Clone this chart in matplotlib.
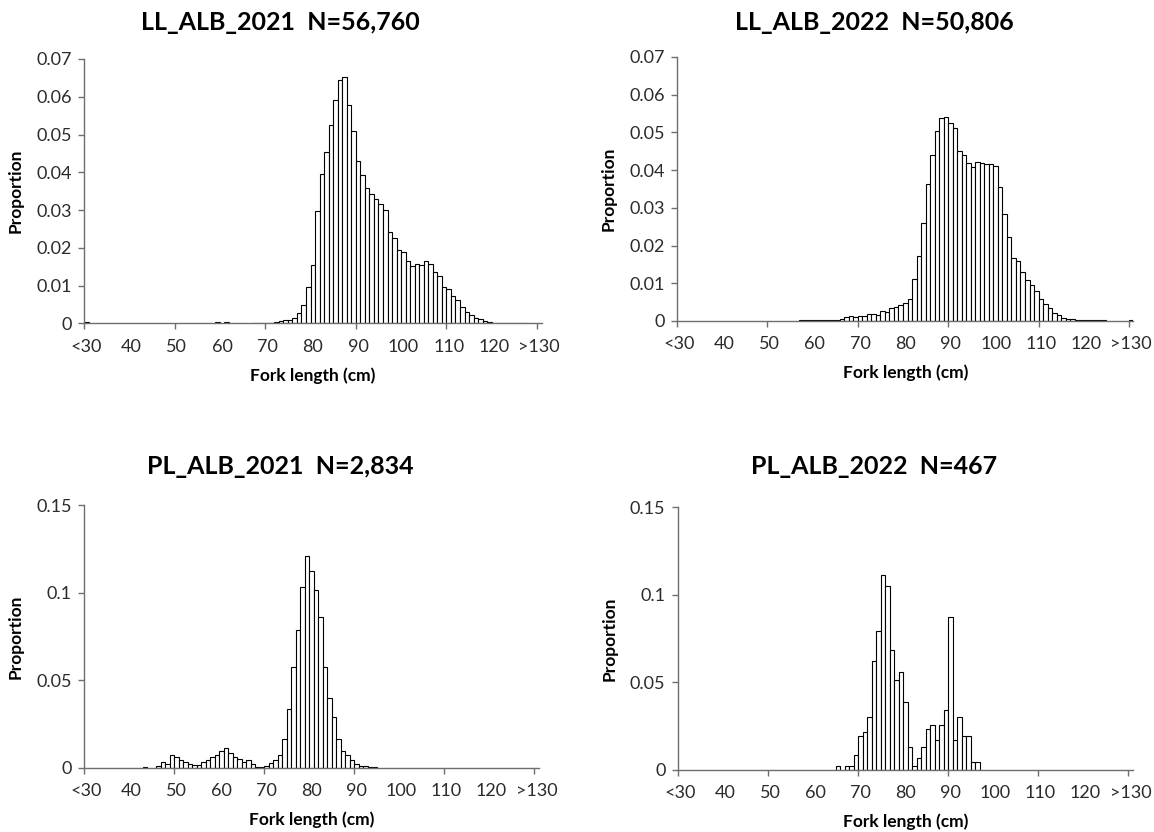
import matplotlib
matplotlib.use("Agg")
import matplotlib.pyplot as plt

plt.rcParams["font.family"] = ["Lato", "DejaVu Sans"]

# categories: 1 cm bins, first is "<30", last is ">130"
tick_values = [30, 40, 50, 60, 70, 80, 90, 100, 110, 120, 130]
tick_labels = ["<30", "40", "50", "60", "70", "80", "90", "100", "110", "120", ">130"]

# LL_ALB_2021
ll21_len = [30, 59, 61,
            67, 68, 69, 70, 71, 72, 73, 74, 75, 76, 77, 78, 79,
            80, 81, 82, 83, 84, 85, 86, 87, 88, 89,
            90, 91, 92, 93, 94, 95, 96, 97, 98, 99,
            100, 101, 102, 103, 104, 105, 106, 107, 108, 109,
            110, 111, 112, 113, 114, 115, 116, 117, 118, 119,
            120, 121, 122, 123, 124, 125, 126, 127]
ll21_prop = [0.0003, 0.0003, 0.0003,
             0.0002, 0.0002, 0.0002, 0.0002, 0.0002, 0.0003, 0.0006, 0.0009, 0.0010, 0.0014, 0.0027, 0.0048, 0.0095,
             0.0154, 0.0297, 0.0396, 0.0455, 0.0526, 0.0592, 0.0644, 0.0651, 0.0578, 0.0510,
             0.0430, 0.0393, 0.0359, 0.0342, 0.0328, 0.0315, 0.0301, 0.0242, 0.0227, 0.0194,
             0.0189, 0.0165, 0.0151, 0.0156, 0.0154, 0.0165, 0.0156, 0.0136, 0.0125, 0.0097,
             0.0092, 0.0072, 0.0062, 0.0042, 0.0030, 0.0022, 0.0013, 0.0011, 0.0007, 0.0004,
             0.0002, 0.0002, 0.0002, 0.0002, 0.0002, 0.0002, 0.0002, 0.0002]

# LL_ALB_2022
ll22_len = [57, 58, 59, 60, 61, 62, 63, 64, 65, 66, 67, 68, 69,
            70, 71, 72, 73, 74, 75, 76, 77, 78, 79,
            80, 81, 82, 83, 84, 85, 86, 87, 88, 89,
            90, 91, 92, 93, 94, 95, 96, 97, 98, 99,
            100, 101, 102, 103, 104, 105, 106, 107, 108, 109,
            110, 111, 112, 113, 114, 115, 116, 117, 118, 119,
            120, 121, 122, 123, 124, 130]
ll22_prop = [0.0002, 0.0002, 0.0002, 0.0002, 0.0002, 0.0002, 0.0002, 0.0002, 0.0002, 0.0004, 0.0011, 0.0014, 0.0010,
             0.0013, 0.0012, 0.0018, 0.0018, 0.0015, 0.0027, 0.0025, 0.0034, 0.0037, 0.0042,
             0.0049, 0.0059, 0.0111, 0.0173, 0.0260, 0.0362, 0.0440, 0.0504, 0.0539, 0.0542,
             0.0524, 0.0511, 0.0451, 0.0440, 0.0418, 0.0409, 0.0422, 0.0419, 0.0415, 0.0416,
             0.0412, 0.0354, 0.0285, 0.0223, 0.0167, 0.0158, 0.0130, 0.0108, 0.0095, 0.0079,
             0.0058, 0.0046, 0.0034, 0.0021, 0.0015, 0.0009, 0.0005, 0.0004, 0.0002, 0.0002,
             0.0002, 0.0002, 0.0002, 0.0002, 0.0002, 0.0003]

# PL_ALB_2021
pl21_len = [43, 46, 47, 48, 49, 50, 51, 52, 53, 54, 55, 56, 57, 58, 59,
            60, 61, 62, 63, 64, 65, 66, 67, 68, 69,
            70, 71, 72, 73, 74, 75, 76, 77, 78, 79,
            80, 81, 82, 83, 84, 85, 86, 87, 88, 89,
            90, 91, 92, 93, 94]
pl21_prop = [0.0006, 0.0011, 0.0030, 0.0020, 0.0070, 0.0060, 0.0042, 0.0030, 0.0019, 0.0013, 0.0013, 0.0030, 0.0042, 0.0061, 0.0070,
             0.0097, 0.0112, 0.0082, 0.0061, 0.0051, 0.0030, 0.0042, 0.0019, 0.0006, 0.0004,
             0.0011, 0.0025, 0.0042, 0.0070, 0.0162, 0.0335, 0.0573, 0.0787, 0.1029, 0.1211,
             0.1126, 0.1015, 0.0863, 0.0575, 0.0396, 0.0291, 0.0162, 0.0095, 0.0070, 0.0044,
             0.0019, 0.0011, 0.0011, 0.0006, 0.0004]

# PL_ALB_2022
pl22_len = [65, 67, 68, 69,
            70, 71, 72, 73, 74, 75, 76, 77, 78, 79,
            80, 81, 82, 83, 84, 85, 86, 87, 88, 89,
            90, 91, 92, 93, 94, 95, 96]
pl22_prop = [0.0021, 0.0021, 0.0021, 0.0086,
             0.0193, 0.0214, 0.0300, 0.0621, 0.0792, 0.1113, 0.1049, 0.0685, 0.0514, 0.0557,
             0.0385, 0.0128, 0.0021, 0.0064, 0.0128, 0.0235, 0.0257, 0.0171, 0.0257, 0.0343,
             0.0870, 0.0171, 0.0300, 0.0193, 0.0193, 0.0043, 0.0043]

panels = [
    ("LL_ALB_2021  N=56,760", ll21_len, ll21_prop, [0.0728, 0.6114, 0.3965, 0.3177],
     0.07, [0, 0.01, 0.02, 0.03, 0.04, 0.05, 0.06, 0.07],
     ["0", "0.01", "0.02", "0.03", "0.04", "0.05", "0.06", "0.07"], (280, 22)),
    ("LL_ALB_2022  N=50,806", ll22_len, ll22_prop, [0.5867, 0.6142, 0.3955, 0.3173],
     0.07, [0, 0.01, 0.02, 0.03, 0.04, 0.05, 0.06, 0.07],
     ["0", "0.01", "0.02", "0.03", "0.04", "0.05", "0.06", "0.07"], (874, 22)),
    ("PL_ALB_2021  N=2,834", pl21_len, pl21_prop, [0.0728, 0.0773, 0.3940, 0.3157],
     0.15, [0, 0.05, 0.10, 0.15], ["0", "0.05", "0.1", "0.15"], (280, 467)),
    ("PL_ALB_2022  N=467", pl22_len, pl22_prop, [0.5875, 0.0749, 0.3940, 0.3157],
     0.15, [0, 0.05, 0.10, 0.15], ["0", "0.05", "0.1", "0.15"], (874, 467)),
]

W, H = 1154, 832
fig = plt.figure(figsize=(W / 100, H / 100), dpi=100)

text_color = "#2b2b2b"
axis_color = "#6e6e6e"

for title, lengths, props, rect, ymax, yticks, ylabels, title_xy in panels:
    ax = fig.add_axes(rect)
    ax.bar(lengths, props, width=1.0, align="edge", color="white",
           edgecolor="black", linewidth=0.8)
    ax.set_xlim(30, 131)
    ax.set_ylim(0, ymax)

    for side in ["top", "right"]:
        ax.spines[side].set_visible(False)
    for side in ["left", "bottom"]:
        ax.spines[side].set_color(axis_color)
        ax.spines[side].set_linewidth(1.0)

    # labels centred on the category, tick marks every 20 cm at bin edges
    ax.set_xticks([v + 0.5 for v in tick_values])
    ax.set_xticklabels(tick_labels)
    ax.tick_params(axis="x", which="major", length=0, pad=11,
                   labelsize=13, labelcolor=text_color)
    ax.set_xticks([30, 50, 70, 90, 110, 130], minor=True)
    ax.tick_params(axis="x", which="minor", length=4, width=1.0,
                   color=axis_color, direction="out")

    ax.set_yticks(yticks)
    ax.set_yticklabels(ylabels)
    ax.tick_params(axis="y", length=4, width=1.0, color=axis_color,
                   labelsize=13, labelcolor=text_color, pad=5)

    ax.set_xlabel("Fork length (cm)", fontsize=12.5, fontweight="bold",
                  color="black", labelpad=9)
    ax.set_ylabel("Proportion", fontsize=12.5, fontweight="bold",
                  color="black", labelpad=9)

    fig.text(title_xy[0] / W, 1 - title_xy[1] / H, title, ha="center",
             va="center", fontsize=18, fontweight="bold", color="black")

fig.savefig("out.png", dpi=100)
